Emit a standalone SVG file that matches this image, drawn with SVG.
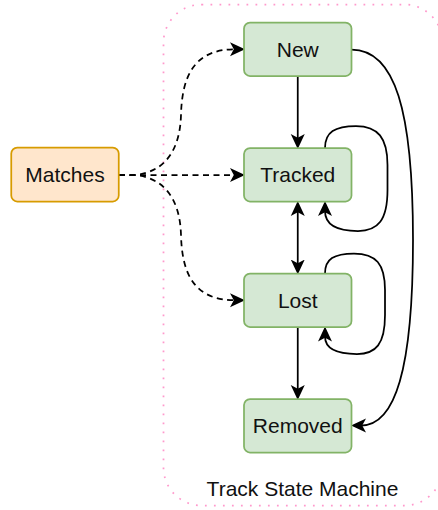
<svg xmlns="http://www.w3.org/2000/svg" width="438" height="510" viewBox="0 0 438 510">
<defs>
<marker id="arr" viewBox="0 0 15 15" markerWidth="15" markerHeight="15" refX="5" refY="7.5" orient="auto-start-reverse" markerUnits="userSpaceOnUse">
<path d="M15,7.5 L0,0.5 L3.8,7.5 L0,14.5 Z" fill="#000"/>
</marker>
<style>
.state rect{fill:#d5e8d4;stroke:#82b366;stroke-width:1.75}
.src rect{fill:#ffe6cc;stroke:#d79b00;stroke-width:1.75}
text{font-family:"Liberation Sans",Arial,sans-serif;font-size:21px;fill:#111;text-anchor:middle}
.e{fill:none;stroke:#000;stroke-width:1.75}
.d{stroke-dasharray:6 4.5}
.arr{marker-end:url(#arr)}
</style>
</defs>
<g id="container">
<rect x="163.5" y="4.5" width="279" height="501" rx="38" fill="none" stroke="#ff99cc" stroke-width="1.75" stroke-dasharray="1.75 7.25"/>
<text x="302.5" y="496">Track State Machine</text>
</g>
<g id="connectors">
<path class="e d arr" d="M119,175 L235,175"/>
<path class="e d arr" d="M119,175 L135,175 C165,172 180,150 181,115 C182,75 195,49.25 235,49.25"/>
<path class="e d arr" d="M119,175 L135,175 C165,178 180,200 181,235 C182,275 195,300.25 235,300.25"/>
<path class="e arr" d="M297.75,76 L297.75,139"/>
<path class="e arr" style="marker-start:url(#arr)" d="M297.75,211 L297.75,264.5"/>
<path class="e arr" d="M297.75,327 L297.75,390"/>
<path class="e arr" d="M325,148 C325,132 335,126 356,126 C378,126 387.5,138 387.5,165 L387.5,190 C387.5,220 378,231 358,231 C336,231 325,225 325,211"/>
<path class="e arr" d="M325,273.5 C325,259 334,253.5 354,253.5 C376,253.5 385,264 385,290 L385,315 C385,344 376,354 357,354 C336,354 325,349 325,336.5"/>
<path class="e arr" d="M351.5,49.5 C395,49.5 413,110 413,240 C413,370 395,425.5 361,425.5"/>
</g>
<g id="matches" class="src">
<rect x="11.25" y="147.5" width="107.5" height="54" rx="6"/>
<text x="65" y="182">Matches</text>
</g>
<g id="new" class="state">
<rect x="244" y="22.5" width="107.5" height="53.5" rx="6"/>
<text x="297.75" y="56.75">New</text>
</g>
<g id="tracked" class="state">
<rect x="244" y="148" width="107.5" height="53.5" rx="6"/>
<text x="297.75" y="182.25">Tracked</text>
</g>
<g id="lost" class="state">
<rect x="244" y="273.5" width="107.5" height="53.5" rx="6"/>
<text x="297.75" y="307.75">Lost</text>
</g>
<g id="removed" class="state">
<rect x="244" y="399" width="107.5" height="53.5" rx="6"/>
<text x="297.75" y="433.25">Removed</text>
</g>
</svg>
